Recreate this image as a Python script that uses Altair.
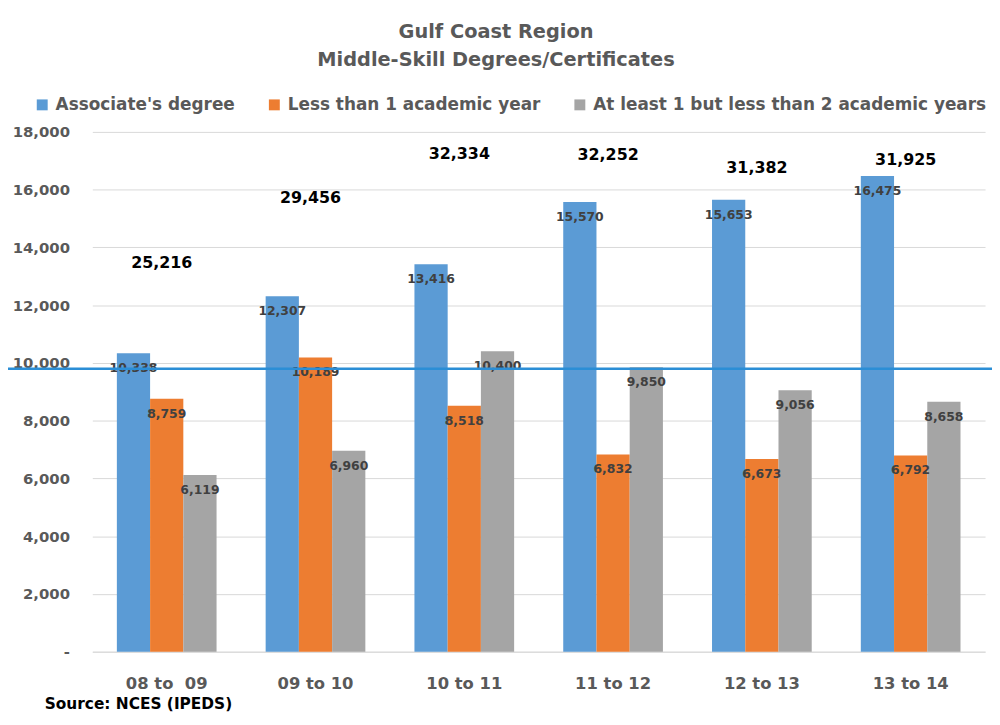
import altair as alt
import pandas as pd

categories = ["08 to \u00a009", "09 to 10", "10 to 11", "11 to 12", "12 to 13", "13 to 14"]
series = ["Associate's degree", "Less than 1 academic year",
          "At least 1 but less than 2 academic years"]
assoc = [10338, 12307, 13416, 15570, 15653, 16475]
less1 = [8759, 10189, 8518, 6832, 6673, 6792]
atleast1 = [6119, 6960, 10400, 9850, 9056, 8658]
totals = [25216, 29456, 32334, 32252, 31382, 31925]
ref_line = [9800]
y_ticks = [0, 2000, 4000, 6000, 8000, 10000, 12000, 14000, 16000, 18000]
colors = ["#5B9BD5", "#ED7D31", "#A5A5A5"]

rows = []
for i, c in enumerate(categories):
    for s, vals in zip(series, [assoc, less1, atleast1]):
        rows.append({"period": c, "series": s, "value": vals[i]})
df = pd.DataFrame(rows)
tot_df = pd.DataFrame({"period": categories, "total": totals})
ref_df = pd.DataFrame({"v": ref_line})

FONT = "DejaVu Sans"
GRAY = "#595959"

x_enc = alt.X("period:N", sort=categories,
              scale=alt.Scale(paddingInner=0.33, paddingOuter=0.165),
              axis=alt.Axis(title=None, labelAngle=0, ticks=False,
                            domainColor="#D9D9D9", domainWidth=1,
                            labelFont=FONT, labelFontSize=16.5,
                            labelFontWeight="bold", labelColor=GRAY,
                            labelPadding=24))
y_scale = alt.Scale(domain=[0, 18000], nice=False)
xoff = alt.XOffset("series:N", sort=series, scale=alt.Scale(paddingInner=0, paddingOuter=0))

bars = alt.Chart(df).mark_bar().encode(
    x=x_enc,
    xOffset=xoff,
    y=alt.Y("value:Q", scale=y_scale,
            axis=alt.Axis(title=None, values=y_ticks, ticks=False, domain=False,
                          gridColor="#D9D9D9", labelFont=FONT, labelFontSize=15,
                          labelFontWeight="bold", labelColor=GRAY, labelPadding=23,
                          labelExpr="datum.value == 0 ? '-' : format(datum.value, ',')")),
    color=alt.Color("series:N", sort=series,
                    scale=alt.Scale(domain=series, range=colors),
                    legend=alt.Legend(title=None, orient="none", legendX=-59, legendY=-36,
                                      direction="horizontal", symbolType="square",
                                      symbolSize=121, symbolStrokeWidth=0,
                                      labelFont=FONT, labelFontSize=17,
                                      labelFontWeight="bold", labelColor=GRAY,
                                      labelOffset=5, columnPadding=31,
                                      labelLimit=500)),
)

labels = alt.Chart(df).mark_text(dy=15, font=FONT, fontSize=12.5, fontWeight="bold",
                                 color="#404040").encode(
    x=alt.X("period:N", sort=categories),
    xOffset=xoff,
    y=alt.Y("value:Q", scale=y_scale, axis=None),
    text=alt.Text("value:Q", format=","),
)

rule = alt.Chart(ref_df).mark_rule(color="#2B8ED6", strokeWidth=2.5).encode(
    y=alt.Y("v:Q", scale=y_scale, axis=None),
    x=alt.value(-93), x2=alt.value(907),
)

tot = alt.Chart(tot_df).mark_text(dx=-5, font=FONT, fontSize=16, fontWeight="bold",
                                  color="black").encode(
    x=alt.X("period:N", sort=categories),
    y=alt.Y("total:Q", scale=alt.Scale(domain=[0, 33750], nice=False), axis=None),
    text=alt.Text("total:Q", format=","),
)

source = alt.Chart(pd.DataFrame({"t": ["Source: NCES (IPEDS)"]})).mark_text(
    align="left", baseline="middle", font=FONT, fontSize=15.5, fontWeight="bold",
    color="black").encode(text="t:N", x=alt.value(-48), y=alt.value(577))

chart = alt.layer(bars, labels, rule, tot, source).resolve_scale(
    y="independent"
).properties(
    width=900, height=524,
    padding={"left": 85, "top": 122, "right": 7, "bottom": 70},
    autosize=alt.AutoSizeParams(type="none"),
    title=alt.TitleParams(["Gulf Coast Region", "Middle-Skill Degrees/Certificates"],
                          font=FONT, fontSize=19.5, fontWeight="bold", color=GRAY,
                          anchor="middle", dx=-43, offset=26, lineHeight=28),
).configure_view(stroke=None)

chart.save("out.html", embed_options={"renderer": "svg", "actions": False})
